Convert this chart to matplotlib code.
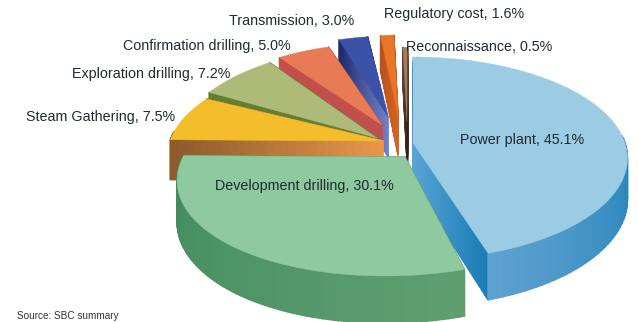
import numpy as np
import matplotlib
matplotlib.use("Agg")
import matplotlib.pyplot as plt
from matplotlib.colors import to_rgb
from matplotlib.collections import PolyCollection

# Cost shares in percent, clockwise from twelve o'clock
categories = ["Power plant", "Development drilling", "Steam Gathering", "Exploration drilling",
              "Confirmation drilling", "Transmission", "Regulatory cost", "Reconnaissance"]
shares = [45.1, 30.1, 7.5, 7.2, 5.0, 3.0, 1.6, 0.5]
first_angle = 90.0

# Exploded placement of each slice: apex x, apex y, x radius, y radius, shear
placement = {
    "Power plant": (413, 143, 212, 99, 0.0),
    "Development drilling": (405, 157, 222, 101, -0.17),
    "Steam Gathering": (383, 141, 213, 97, 0.0),
    "Exploration drilling": (377, 138, 203, 105, 0.0),
    "Confirmation drilling": (382, 125, 194, 94, 0.0),
    "Transmission": (388, 117, 178, 93, 0.0),
    "Regulatory cost": (398, 115, 153, 92, 0.0),
    "Reconnaissance": (407, 122, 150, 86, 0.0),
}
# Top colour plus shading stops for the rim and the cut faces
top_colors = {
    "Power plant": "#9ccbe4", "Development drilling": "#8fc9a0", "Steam Gathering": "#f3bd2c",
    "Exploration drilling": "#aebb78", "Confirmation drilling": "#e87b55", "Transmission": "#3b52a8",
    "Regulatory cost": "#e8752a", "Reconnaissance": "#a67c5b",
}
rim_colors = {
    "Power plant": ("#1b7db6", "#5ea2d0"), "Development drilling": ("#5f9f6f", "#3f8a5e"),
    "Steam Gathering": ("#8f5e2e", "#8f5e2e"), "Exploration drilling": ("#5f7f32", "#5f7f32"),
    "Confirmation drilling": ("#c44f4a", "#c44f4a"), "Transmission": ("#1c2a6e", "#1c2a6e"),
    "Regulatory cost": ("#b8501e", "#b8501e"), "Reconnaissance": ("#3a2a20", "#3a2a20"),
}
# Face colours run from the apex to the rim
face_colors = {
    "Power plant": ("#5aa5d6", "#1b7db6"), "Development drilling": ("#5d9c6c", "#5d9c6c"),
    "Steam Gathering": ("#ea964b", "#8b5a2b"), "Exploration drilling": ("#5f7f32", "#5f7f32"),
    "Confirmation drilling": ("#c0504d", "#c44f4a"), "Transmission": ("#7480c4", "#1c2a6e"),
    "Regulatory cost": ("#d9661f", "#b8501e"), "Reconnaissance": ("#2e2018", "#5a4030"),
}

labels = [
    ("Transmission, 3.0%", 229, 21), ("Regulatory cost, 1.6%", 384, 14),
    ("Confirmation drilling, 5.0%", 123, 46), ("Reconnaissance, 0.5%", 406, 47),
    ("Exploration drilling, 7.2%", 72, 74), ("Steam Gathering, 7.5%", 26, 117),
    ("Power plant, 45.1%", 460, 140), ("Development drilling, 30.1%", 215, 186),
]
source_note = "Source: SBC summary"

PERSPECTIVE = 0.151
DEPTH = 40.0

plt.rcParams["font.family"] = ["Liberation Sans", "DejaVu Sans"]
fig = plt.figure(figsize=(6.38, 3.22), dpi=100)
ax = fig.add_axes([0, 0, 1, 1])
ax.set_xlim(0, 638)
ax.set_ylim(322, 0)
ax.axis("off")


def project(theta_deg, place, radius=1.0):
    """Map a slice angle onto the tilted disc; returns top x, y and extrusion depth."""
    cx, cy, rx, ry, shear = place
    t = np.radians(theta_deg)
    u, v = radius * np.cos(t), radius * np.sin(t)
    w = 1 + PERSPECTIVE * v
    y = -ry * v / w
    x = cx + rx * u / w + shear * y
    return x, cy + y, np.full_like(x, DEPTH) / w


def strip(x, y, d, start, end, order):
    """Shaded band between a top edge and its extruded copy."""
    c0, c1 = np.array(to_rgb(start)), np.array(to_rgb(end))
    polys, cols = [], []
    n = len(x) - 1
    for i in range(n):
        polys.append([(x[i], y[i]), (x[i + 1], y[i + 1]),
                      (x[i + 1], y[i + 1] + d[i + 1]), (x[i], y[i] + d[i])])
        cols.append(c0 + (c1 - c0) * (i + 0.5) / n)
    ax.add_collection(PolyCollection(polys, facecolors=cols, edgecolors=cols,
                                     linewidths=1.0, zorder=order))


# Slices are stacked from the back of the pie to the front
draw_order = ["Reconnaissance", "Regulatory cost", "Transmission", "Confirmation drilling",
              "Exploration drilling", "Steam Gathering", "Power plant", "Development drilling"]
spans = {}
angle = first_angle
for name, share in zip(categories, shares):
    spans[name] = (angle, angle - share * 3.6)
    angle -= share * 3.6

for rank, name in enumerate(draw_order):
    a0, a1 = spans[name]
    place = placement[name]
    base = rank * 10
    arc = np.linspace(a0, a1, 90)
    xa, ya, da = project(arc, place)
    radial = np.linspace(0, 1, 30)
    # Cut faces and rim, rear surfaces first
    faces = []
    for edge_angle in (a0, a1):
        xr, yr, dr = project(np.full(30, edge_angle), place, radial)
        faces.append((np.mean(yr), xr, yr, dr, *face_colors[name]))
    # Only the forward part of the rim can be seen
    front = np.sin(np.radians(arc)) < 0.1
    if front.sum() > 1:
        xf, yf, df = project(arc[front], place)
        faces.append((np.mean(yf), xf, yf, df, *rim_colors[name]))
    faces.sort(key=lambda f: f[0])
    for j, (_, xs, ys, ds, c0, c1) in enumerate(faces):
        strip(xs, ys, ds, c0, c1, base + j)
    # Top surface
    top = np.column_stack([np.r_[place[0], xa], np.r_[place[1], ya]])
    ax.fill(top[:, 0], top[:, 1], color=top_colors[name], lw=0.3, zorder=base + 5)

for text, x, y in labels:
    ax.text(x, y, text, fontsize=10.3, color="#1e2b30", ha="left", va="center", zorder=200)
ax.text(17, 316, source_note, fontsize=7.2, color="#333333", ha="left", va="center", zorder=200)

fig.savefig("out.png", dpi=100, facecolor="white")
